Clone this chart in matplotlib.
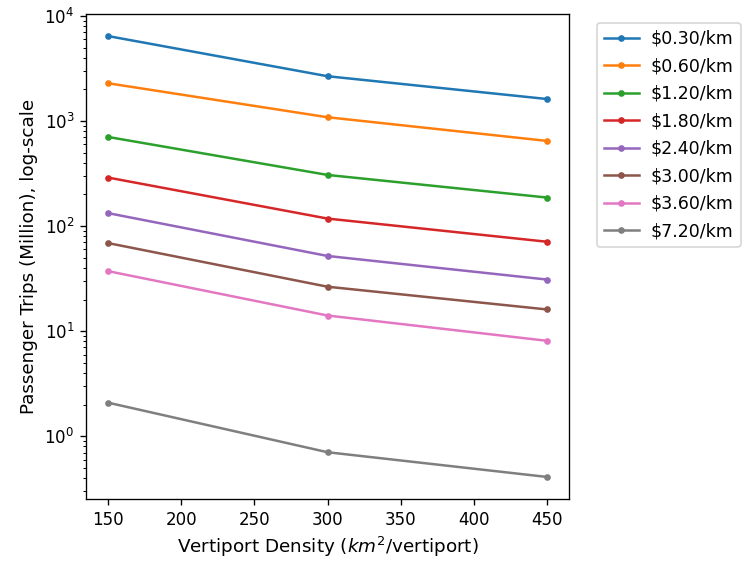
import matplotlib
matplotlib.use('Agg')
import matplotlib.pyplot as plt

density = [150, 300, 450]

price_labels = ['$0.30/km', '$0.60/km', '$1.20/km', '$1.80/km',
                '$2.40/km', '$3.00/km', '$3.60/km', '$7.20/km']

# passenger trips (million), one row per price level
trips_030 = [6440, 2670, 1620]
trips_060 = [2290, 1087, 647]
trips_120 = [706, 307, 187]
trips_180 = [290, 118, 71]
trips_240 = [133, 52, 31]
trips_300 = [69, 26.5, 16.1]
trips_360 = [37.3, 14.1, 8.1]
trips_720 = [2.09, 0.705, 0.41]

all_trips = [trips_030, trips_060, trips_120, trips_180,
             trips_240, trips_300, trips_360, trips_720]

DPI = 120
fig = plt.figure(figsize=(742 / DPI, 562 / DPI), dpi=DPI)
ax = fig.add_axes([86 / 742, 1 - 499 / 562, (569 - 86) / 742, (499 - 14) / 562])

for label, vals in zip(price_labels, all_trips):
    ax.plot(density, vals, marker='.', label=label.replace('$', r'\$'))

ax.set_yscale('log')
ax.set_xlabel('Vertiport Density ($km^2$/vertiport)', fontsize=11)
ax.set_ylabel('Passenger Trips (Million), log-scale', fontsize=11)
ax.legend(bbox_to_anchor=(1.04, 1.0), loc='upper left', fontsize=10.4,
          labelspacing=0.55, handletextpad=0.7)

fig.savefig('out.png', dpi=DPI)
plt.close(fig)
